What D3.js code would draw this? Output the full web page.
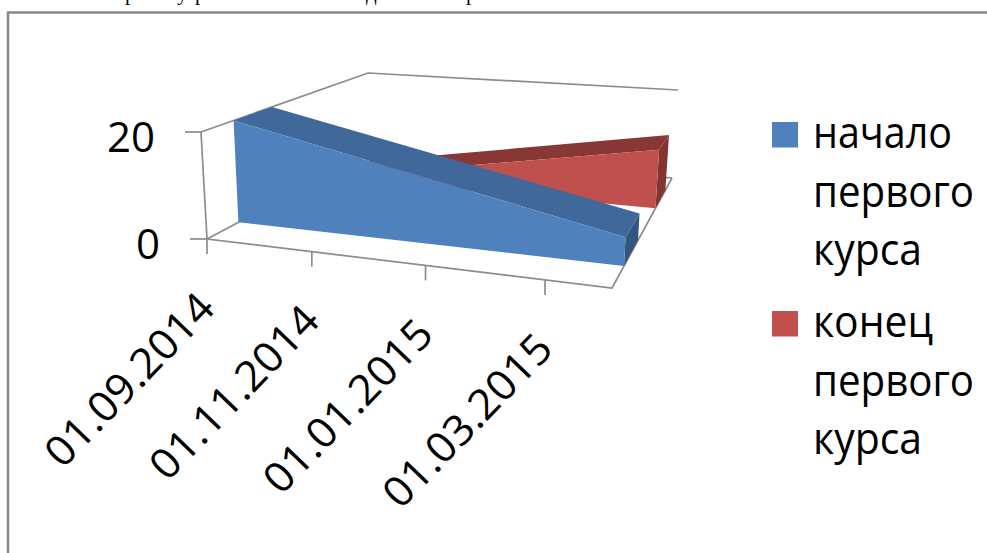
<!DOCTYPE html>
<meta charset="utf-8">
<style>
html, body { margin: 0; background: #fff; }
svg { display: block; }
.label { font-family: "Open Sans", sans-serif; fill: #000; }
.axis-line { stroke: #8c8c8c; stroke-width: 1.7; fill: none; }
.cropped { font: 21px "Liberation Serif", serif; fill: #000; }
</style>
<svg id="chart" width="987" height="553"></svg>
<script src="https://d3js.org/d3.v7.min.js"></script>
<script>

var parseDate = d3.timeParse("%d.%m.%Y"),
    formatDate = d3.timeFormat("%d.%m.%Y");

// data
var dates = ["01.09.2014", "01.04.2015"];
var startCourse = [20, 5];
var endCourse = [0, 12];
var seriesNames = ["начало первого курса", "конец первого курса"];
var tickDates = ["01.09.2014", "01.11.2014", "01.01.2015", "01.03.2015"];
var valueTicks = [0, 20];
var legendLines = [["начало", "первого", "курса"], ["конец", "первого", "курса"]];
// bottoms of a text line cut off by the top of the picture
var croppedLetters = ["р", "у", "р", "д", "р"];
var croppedX = [125, 177, 195, 366, 466];

var colors = [
  { front: "#4f81bd", top: "#40689a", end: "#33557f" },
  { front: "#c0504d", top: "#893735", end: "#833432" }
];

var svg = d3.select("#chart");

// scales into the unit box of the 3d chart
var x = d3.scaleTime()
    .domain([parseDate("01.09.2014"), parseDate("01.04.2015")])
    .range([0, 1]);
var y = d3.scaleLinear().domain([0, 20]).range([0, 1]);
var depth = d3.scaleBand()
    .domain(seriesNames)
    .range([0, 1])
    .paddingInner(0.6)
    .paddingOuter(0.3);

// corners of the box on screen: front left, front right, back right, back left
var floorQuad = [[207, 239], [612, 288], [672, 178], [369, 153]];
var roofQuad = [[201, 132], [618, 166], [678, 90], [368, 73]];

// unit square -> quad
function homography(q) {
  var dx1 = q[1][0] - q[2][0], dx2 = q[3][0] - q[2][0], sx = q[0][0] - q[1][0] + q[2][0] - q[3][0],
      dy1 = q[1][1] - q[2][1], dy2 = q[3][1] - q[2][1], sy = q[0][1] - q[1][1] + q[2][1] - q[3][1],
      den = dx1 * dy2 - dx2 * dy1,
      g = (sx * dy2 - dx2 * sy) / den,
      h = (dx1 * sy - sx * dy1) / den;
  return function(u, v) {
    var w = g * u + h * v + 1;
    return [
      ((q[1][0] - q[0][0] + g * q[1][0]) * u + (q[3][0] - q[0][0] + h * q[3][0]) * v + q[0][0]) / w,
      ((q[1][1] - q[0][1] + g * q[1][1]) * u + (q[3][1] - q[0][1] + h * q[3][1]) * v + q[0][1]) / w
    ];
  };
}

var floorAt = homography(floorQuad),
    roofAt = homography(roofQuad);

function project(u, v, z) {
  var a = floorAt(u, v), b = roofAt(u, v);
  return [a[0] + (b[0] - a[0]) * z, a[1] + (b[1] - a[1]) * z];
}

var path = d3.line();

// frame of the pasted picture
svg.append("path")
    .attr("d", "M8,553V12.5H987")
    .attr("fill", "none")
    .attr("stroke", "#888")
    .attr("stroke-width", 2.5);

svg.selectAll(".cropped")
    .data(croppedLetters)
    .enter().append("text")
    .attr("class", "cropped")
    .attr("x", function(d, i) { return croppedX[i]; })
    .attr("y", -0.5)
    .text(function(d) { return d; });

// walls and floor
var box = svg.append("g");
box.append("path").attr("class", "axis-line")
    .attr("d", path([project(0, 0, 1), project(0, 1, 1), project(1, 1, 1)]));
box.append("path").attr("class", "axis-line")
    .attr("d", path([project(0, 0, 1), project(0, 0, 0), project(1, 0, 0), project(1, 1, 0)]));
box.append("path").attr("class", "axis-line")
    .attr("d", path([project(0, 0, 0), project(0, 1, 0)]));
box.append("path").attr("class", "axis-line")
    .attr("d", path([project(1, 1, 0), project(0.97, 1, 0)]));

// value axis
valueTicks.forEach(function(d) {
  var p = project(0, 0, y(d)),
      len = d === 0 ? 17 : 16;
  box.append("line").attr("class", "axis-line")
      .attr("x1", p[0] - len).attr("x2", p[0])
      .attr("y1", p[1]).attr("y2", p[1]);
  svg.append("text").attr("class", "label")
      .attr("x", p[0] - len - 30)
      .attr("y", p[1] + 20)
      .attr("text-anchor", "end")
      .style("font-size", "42px")
      .text(d);
});

// date axis
tickDates.forEach(function(d) {
  var p = project(x(parseDate(d)), 0, 0);
  box.append("line").attr("class", "axis-line")
      .attr("x1", p[0]).attr("x2", p[0])
      .attr("y1", p[1]).attr("y2", p[1] + 15);
  svg.append("text").attr("class", "label")
      .attr("transform", "translate(" + (p[0] + 10) + "," + (p[1] + 71) + ") rotate(-46)")
      .attr("text-anchor", "end")
      .attr("textLength", 222)
      .attr("lengthAdjust", "spacingAndGlyphs")
      .style("font-size", "42px")
      .text(formatDate(parseDate(d)));
});

// areas, back series first
function drawArea(name, values, color) {
  var v0 = depth(name),
      v1 = v0 + depth.bandwidth(),
      u = dates.map(function(d) { return x(parseDate(d)); }),
      z = values.map(y),
      g = svg.append("g"),
      last = u.length - 1;

  g.append("path").attr("fill", color.end)
      .attr("d", path([
        project(u[last], v0, z[last]), project(u[last], v1, z[last]),
        project(u[last], v1, 0), project(u[last], v0, 0)
      ]) + "Z");

  d3.pairs(d3.range(u.length)).forEach(function(s) {
    g.append("path").attr("fill", color.top)
        .attr("d", path([
          project(u[s[0]], v0, z[s[0]]), project(u[s[0]], v1, z[s[0]]),
          project(u[s[1]], v1, z[s[1]]), project(u[s[1]], v0, z[s[1]])
        ]) + "Z");
  });

  var front = u.map(function(d, i) { return project(d, v0, z[i]); });
  front.push(project(u[last], v0, 0), project(u[0], v0, 0));
  g.append("path").attr("fill", color.front).attr("d", path(front) + "Z");
}

drawArea(seriesNames[1], endCourse, colors[1]);
drawArea(seriesNames[0], startCourse, colors[0]);

// legend
var legendTop = [122, 311],
    legendBase = [148, 337];
seriesNames.forEach(function(name, i) {
  svg.append("rect")
      .attr("x", 772).attr("y", legendTop[i])
      .attr("width", 26).attr("height", 25.5)
      .attr("fill", colors[i].front);
  legendLines[i].forEach(function(line, j) {
    svg.append("text").attr("class", "label")
        .attr("x", 813)
        .attr("y", legendBase[i] + j * 58.5)
        .attr("textLength", [[139, 161, 109], [120, 161, 109]][i][j])
        .attr("lengthAdjust", "spacingAndGlyphs")
        .style("font-size", "43px")
        .text(line);
  });
});

</script>
